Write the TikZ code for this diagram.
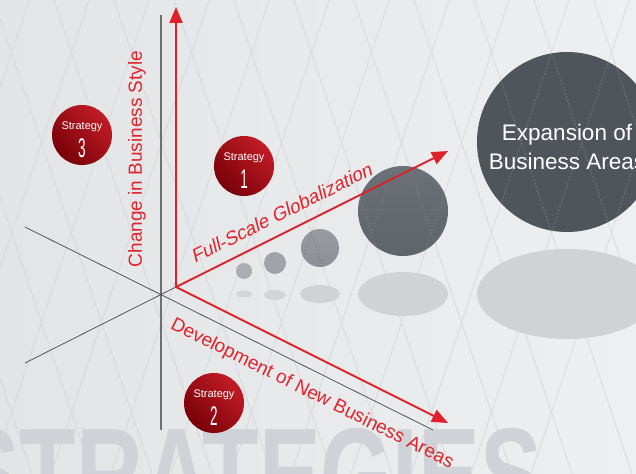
\documentclass[tikz,border=0pt]{standalone}
\usepackage{fontspec}
\usepackage{graphicx}
\setmainfont{Liberation Sans}
\newfontfamily\slantfam[FakeSlant=0.22]{Liberation Sans}
\usetikzlibrary{arrows.meta}
\definecolor{bgL}{HTML}{E3E4E6}
\definecolor{bgR}{HTML}{EEEFF1}
\definecolor{latt}{HTML}{D2D4D7}
\definecolor{wmark}{HTML}{CFD2D6}
\definecolor{axred}{HTML}{E0202A}
\definecolor{txtred}{HTML}{E3232C}
\definecolor{redL}{HTML}{C21C26}
\definecolor{redD}{HTML}{780008}
\definecolor{axgrey}{HTML}{555555}
\definecolor{vgrey}{HTML}{707070}
\definecolor{shad}{HTML}{D0D2D6}
\definecolor{bubA}{HTML}{AAAEB3}
\definecolor{bubB}{HTML}{A0A4A9}
\definecolor{bubC}{HTML}{8C9096}
\definecolor{bubD}{HTML}{5F646B}
\definecolor{bubE}{HTML}{50555C}
\definecolor{dashl}{HTML}{7A7F86}
\tikzset{
  redaxis/.style={draw=axred, line width=1.8pt, -{Triangle[length=16pt,width=13pt]}},
  blackaxis/.style={draw=axgrey, line width=0.8pt},
  redlabel/.style={text=txtred, font=\fontsize{19}{19}\selectfont, inner sep=0pt},
  stratcirc/.style={shading=axis, top color=redL, bottom color=redD, shading angle=-45},
  strattxt/.style={text=white, font=\fontsize{11}{11}\selectfont, inner sep=0pt},
  stratnum/.style={text=white, font=\fontsize{27}{27}\selectfont, inner sep=0pt},
  lattline/.style={draw=latt, line width=0.6pt},
}
\begin{document}
\begin{tikzpicture}[x=1pt,y=-1pt]
\useasboundingbox (0,0) rectangle (636,473);
\clip (0,0) rectangle (636,473);
% background
\shade[left color=bgL, right color=bgR] (0,0) rectangle (636,473);
% watermark
\node[anchor=base west, inner sep=0pt, text=wmark, font=\bfseries\fontsize{132}{132}\selectfont] (wm) at (-42,520) {\scalebox{0.7}[1]{STRATEGIES}};
% shadows
\fill[shad!85!bgL] (244,294) ellipse[x radius=8pt, y radius=3.5pt];
\fill[shad!90!bgL] (275,295) ellipse[x radius=11pt, y radius=5pt];
\fill[shad] (320,294) ellipse[x radius=20pt, y radius=9pt];
\fill[shad] (403,294) ellipse[x radius=45pt, y radius=22pt];
\fill[shad] (567,294) ellipse[x radius=90pt, y radius=45pt];
% lattice
\foreach \k in {-4,...,11} {
  \draw[lattline] ({54+60*\k},0) -- ({54+60*\k+157.7},473);
  \draw[lattline] ({29+60*\k},0) -- ({29+60*\k-157.7},473);
}
% black axes
\coordinate (vtop) at (161,15);
\coordinate (vbot) at (161,430);
\coordinate (d1a) at (25,227);
\coordinate (d1b) at (433,430);
\coordinate (d2a) at (25,363);
\coordinate (d2b) at (176,287);
\draw[draw=vgrey, line width=1.2pt] (vtop) -- (vbot);
\draw[blackaxis] (d1a) -- (d1b);
\draw[blackaxis] (d2a) -- (d2b);
% grey bubbles
\fill[bubA] (244,271) circle[radius=8pt];
\fill[bubB] (275,263) circle[radius=11pt];
\shade[top color=bubC!90!white, bottom color=bubC] (320,248) circle[radius=19pt];
\shade[top color=bubD!92!white, bottom color=bubD] (403,211) circle[radius=45pt];
\fill[bubE] (567,142) circle[radius=90pt];
\begin{scope}
  \clip (403,211) circle[radius=45pt] (567,142) circle[radius=90pt] (320,248) circle[radius=19pt];
  \foreach \k in {-4,...,11} {
    \draw[draw=dashl, line width=0.6pt, dash pattern=on 2pt off 1.5pt] ({54+60*\k},0) -- ({54+60*\k+157.7},473);
    \draw[draw=dashl, line width=0.6pt, dash pattern=on 2pt off 1.5pt] ({29+60*\k},0) -- ({29+60*\k-157.7},473);
  }
\end{scope}
\node[text=white, align=center, font=\fontsize{22.5}{29}\selectfont, inner sep=0pt] (exp) at (567,147) {Expansion of\\Business Areas};
% red axes
\coordinate (o) at (176,287);
\coordinate (ytip) at (176,7);
\coordinate (gtip) at (448,151);
\coordinate (dtip) at (448,423);
\draw[redaxis] (o) -- (ytip);
\draw[redaxis] (o) -- (gtip);
\draw[redaxis] (o) -- (dtip);
% red labels
\node[redlabel, rotate=90] (lstyle) at (137,159) {Change in Business Style};
\node[redlabel, rotate=26.57, font=\slantfam\fontsize{19}{19}\selectfont] (lglob) at (281,213) {Full-Scale Globalization};
\node[redlabel, rotate=-26.57] (ldev) at (312,394) {Development of New Business Areas};
% strategy circles
\foreach \n/\x/\y in {s3/82/135, s1/244/166, s2/214/403} {
  \shade[stratcirc] (\x,\y) circle[radius=30pt];
}
\node[strattxt] (s3t) at (82,127) {Strategy};
\node[stratnum] (s3n) at (82,148) {\scalebox{0.5}[1]{3}};
\node[strattxt] (s1t) at (244,158) {Strategy};
\node[stratnum] (s1n) at (244,179) {\scalebox{0.5}[1]{1}};
\node[strattxt] (s2t) at (214,395) {Strategy};
\node[stratnum] (s2n) at (214,416) {\scalebox{0.5}[1]{2}};
\end{tikzpicture}
\end{document}
